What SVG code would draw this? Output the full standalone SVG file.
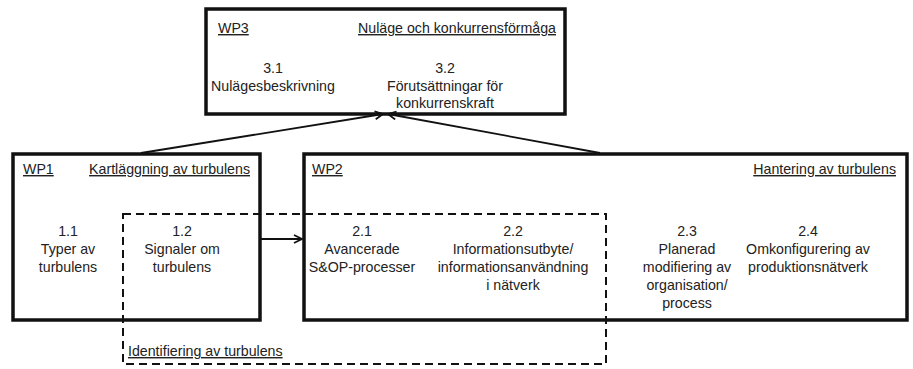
<svg xmlns="http://www.w3.org/2000/svg" width="913" height="369" viewBox="0 0 913 369">
  <style>
    .wp { fill: none; stroke: #111; stroke-width: 3.5; }
    .grp { fill: none; stroke: #111; stroke-width: 2; stroke-dasharray: 8 5; }
    .link { fill: none; stroke: #111; stroke-width: 1.8; }
    text { font-family: "Liberation Sans", Arial, sans-serif; font-size: 14.2px; fill: #222; }
    .c { text-anchor: middle; }
    .r { text-anchor: end; }
    .u { text-decoration: underline; }
  </style>
  <defs>
    <marker id="open" viewBox="0 0 10 10" refX="9" refY="5" markerWidth="10" markerHeight="10" markerUnits="userSpaceOnUse" orient="auto">
      <path d="M1,1 L9,5 L1,9" fill="none" stroke="#111" stroke-width="1.8"/>
    </marker>
  </defs>

  <!-- WP3: current state and competitiveness -->
  <g id="wp3">
    <rect class="wp" x="206" y="9" width="359" height="105"/>
    <text class="u" x="218" y="33">WP3</text>
    <text class="u r" x="556" y="33">Nuläge och konkurrensförmåga</text>
    <text class="c" x="273" y="73">3.1</text>
    <text class="c" x="273" y="91">Nulägesbeskrivning</text>
    <text class="c" x="445" y="73">3.2</text>
    <text class="c" x="445" y="91">Förutsättningar för</text>
    <text class="c" x="445" y="108">konkurrenskraft</text>
  </g>

  <!-- WP1: mapping of turbulence -->
  <g id="wp1">
    <rect class="wp" x="13" y="154" width="247" height="166"/>
    <text class="u" x="23" y="174">WP1</text>
    <text class="u r" x="250" y="174">Kartläggning av turbulens</text>
    <text class="c" x="68" y="236">1.1</text>
    <text class="c" x="68" y="254">Typer av</text>
    <text class="c" x="68" y="272">turbulens</text>
    <text class="c" x="182" y="236">1.2</text>
    <text class="c" x="182" y="254">Signaler om</text>
    <text class="c" x="182" y="272">turbulens</text>
  </g>

  <!-- WP2: handling of turbulence -->
  <g id="wp2">
    <rect class="wp" x="304" y="154" width="603" height="166"/>
    <text class="u" x="312" y="174">WP2</text>
    <text class="u r" x="896" y="174">Hantering av turbulens</text>
    <text class="c" x="362" y="236">2.1</text>
    <text class="c" x="362" y="254">Avancerade</text>
    <text class="c" x="362" y="272">S&amp;OP-processer</text>
    <text class="c" x="513" y="236">2.2</text>
    <text class="c" x="513" y="254">Informationsutbyte/</text>
    <text class="c" x="513" y="272">informationsanvändning</text>
    <text class="c" x="513" y="290">i nätverk</text>
    <text class="c" x="687" y="236">2.3</text>
    <text class="c" x="687" y="254">Planerad</text>
    <text class="c" x="687" y="272">modifiering av</text>
    <text class="c" x="687" y="290">organisation/</text>
    <text class="c" x="687" y="308">process</text>
    <text class="c" x="808" y="236">2.4</text>
    <text class="c" x="808" y="254">Omkonfigurering av</text>
    <text class="c" x="808" y="272">produktionsnätverk</text>
  </g>

  <!-- Dashed grouping: identification of turbulence -->
  <g id="identification">
    <rect class="grp" x="123" y="214" width="483" height="150"/>
    <text class="u" x="128" y="356">Identifiering av turbulens</text>
  </g>

  <g id="connectors">
    <line class="link" x1="260" y1="239" x2="302" y2="239" marker-end="url(#open)"/>
    <line class="link" x1="141" y1="153" x2="383" y2="114" marker-end="url(#open)"/>
    <line class="link" x1="600" y1="153" x2="388" y2="114" marker-end="url(#open)"/>
  </g>
</svg>
